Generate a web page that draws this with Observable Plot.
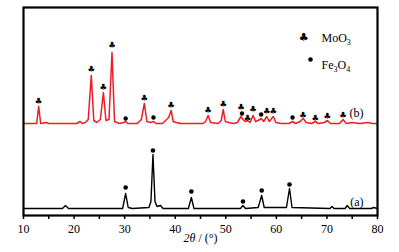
<!DOCTYPE html>
<html><head><meta charset="utf-8">
<script src="https://cdn.jsdelivr.net/npm/d3@7"></script>
<script src="https://cdn.jsdelivr.net/npm/@observablehq/plot@0.6"></script>
<style>body{margin:0;background:#fff}</style>
</head><body><div id="chart"></div>
<script>
// Curve (b): MoO3 + Fe3O4 pattern (red), intensity in arbitrary units
const redX = [10,12.6,13.0,13.4,14.5,15,20.5,21.2,21.6,22.2,22.8,23.4,23.9,24.5,25.2,25.8,26.3,26.9,27.5,28.0,29,29.8,30.2,30.6,32.5,33.3,33.9,34.4,35.2,35.7,36.2,37.5,38.3,38.7,39.2,39.6,40.2,41,45.5,46.0,46.5,47.0,48.5,49.1,49.5,49.9,50.6,51.5,52.3,53.0,53.4,53.8,54.3,54.8,55.4,55.9,56.4,57.0,57.5,58.1,58.6,59.4,59.9,61,62.5,63.2,63.8,64.7,65.3,65.9,67.0,67.7,68.3,69.5,70.1,70.7,72.5,73.2,73.8,75,76.5,78,79,80];
const redY = [92,92,109,92,93,92,92,94,92,93,96,140,95,93,96,123,95,96,163,94,92,93,94,92,92,96,112,94,93,94,92,92,96,98,105,94,93,92,92,94,100,93,92,95,106,94,93,92,93,99,96,94,95,93,100,94,95,97,94,99,94,99,93,92,92,94,92,94,97,93,92,94,92,93,95,92,92,96,92,93,92,93,92,92];
// Curve (a): Fe3O4 pattern (black)
const blackX = [10,17.7,18.3,18.9,29.6,30.2,30.7,31.5,34.8,35.2,35.6,36.0,36.4,37.1,37.6,42.6,43.2,43.7,52.9,53.4,53.9,56.4,57.1,57.6,62.0,62.6,63.1,70.6,71.0,71.4,73.6,74.0,74.5,78.8,79.2,80];
const blackY = [7,7,10,7,7,22,8,7,8,14,61,14,9,10,7,7,18,7,7,10,7,8,20,8,8,27,8,7,9,7,7,10,7,7,8,7];
// Phase markers
const mooX = [13.0,23.4,25.8,27.5,33.9,39.2,46.5,49.5,53.0,54.3,55.4,58.1,59.4,65.3,67.7,70.1,73.2];
const mooY = [114,146,128,170,117,110,105,111,108,97,106,104,104,100,97,99,100];
const feRedX = [30.2,35.7,53.2,57.0,63.2];
const feRedY = [97,98,102,101,98];
const feBlackX = [30.2,35.6,43.2,53.4,57.1,62.6];
const feBlackY = [28,65,24,14,25,31];
const xTicks = [10,15,20,25,30,35,40,45,50,55,60,65,70,75,80];

const zip = (xs, ys) => xs.map((x, i) => ({x, y: ys[i]}));
const red = zip(redX, redY), black = zip(blackX, blackY);
const moo = zip(mooX, mooY), feR = zip(feRedX, feRedY), feB = zip(feBlackX, feBlackY);

const plot = Plot.plot({
  width: 399, height: 252,
  marginLeft: 23, marginRight: 22, marginTop: 7, marginBottom: 37,
  style: {fontFamily: "Liberation Serif", fontSize: "12px", background: "white", color: "black"},
  x: {domain: [10, 80]},
  y: {domain: [0, 208], axis: null},
  marks: [
    Plot.axisX({ticks: xTicks, tickSize: 4, tickPadding: 5, strokeWidth: 1.5, tickFormat: d => d % 10 === 0 ? d : "", label: null}),
    Plot.line(black, {x: "x", y: "y", stroke: "black", strokeWidth: 1.4, curve: "linear"}),
    Plot.line(red, {x: "x", y: "y", stroke: "#ee1c25", strokeWidth: 1.5, curve: "linear"}),
    Plot.text(moo, {x: "x", y: "y", text: () => "♣", fontFamily: "DejaVu Sans", fontSize: 8.5, fill: "black"}),
    Plot.dot(feR, {x: "x", y: "y", r: 2.2, fill: "black"}),
    Plot.dot(feB, {x: "x", y: "y", r: 2.3, fill: "black"}),
    Plot.frame({stroke: "black", strokeWidth: 2.2}),
    Plot.text(["♣"], {frameAnchor: "top-right", dx: -69, dy: 26, text: d => d, fontFamily: "DejaVu Sans", fontSize: 11}),
    Plot.text(["MoO3"], {frameAnchor: "top-right", dx: -56, dy: 26, text: d => d, textAnchor: "start", fontSize: 12}),
    Plot.dot([0], {frameAnchor: "top-right", dx: -67, dy: 52, r: 2.3, fill: "black"}),
    Plot.text(["Fe3O4"], {frameAnchor: "top-right", dx: -56, dy: 53, text: d => d, textAnchor: "start", fontSize: 12}),
    Plot.text(["(b)"], {frameAnchor: "top-right", dx: -14, dy: 101, text: d => d, fontSize: 12}),
    Plot.text(["(a)"], {frameAnchor: "top-right", dx: -14, dy: 190, text: d => d, fontSize: 12}),
    Plot.text(["2θ / (°)"], {frameAnchor: "bottom", dy: 26, text: d => d, fontSize: 12})
  ]
});
plot.querySelectorAll("text").forEach(t => {
  const s = t.textContent;
  if (s === "MoO3") t.innerHTML = 'MoO<tspan font-size="8" dy="3">3</tspan>';
  else if (s === "Fe3O4") t.innerHTML = 'Fe<tspan font-size="8" dy="3">3</tspan><tspan dy="-3">O</tspan><tspan font-size="8" dy="3">4</tspan>';
  else if (s === "2θ / (°)") t.innerHTML = '<tspan font-style="italic">2θ</tspan> / (°)';
});
document.getElementById("chart").appendChild(plot);
</script>
</body></html>
